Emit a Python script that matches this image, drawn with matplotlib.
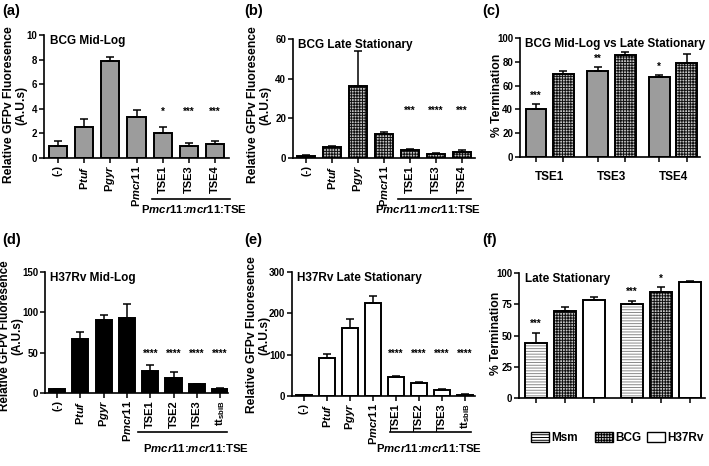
import matplotlib
matplotlib.use('Agg')
import matplotlib.pyplot as plt
from matplotlib.patches import Patch
from matplotlib.lines import Line2D
import numpy as np

plt.rcParams['font.family'] = ['Liberation Sans', 'DejaVu Sans']
plt.rcParams['font.weight'] = 'bold'
plt.rcParams['mathtext.fontset'] = 'custom'
plt.rcParams['mathtext.rm'] = 'Liberation Sans:bold'
plt.rcParams['mathtext.it'] = 'Liberation Sans:italic:bold'
plt.rcParams['mathtext.bf'] = 'Liberation Sans:bold'
plt.rcParams['hatch.linewidth'] = 0.7

# ---------------- data ----------------
ab_labels = ['(-)', 'P$tuf$', 'P$gyr$', 'P$mcr11$', 'TSE1', 'TSE3', 'TSE4']
a_vals = [0.98, 2.55, 7.85, 3.3, 2.05, 0.95, 1.13]
a_err = [0.42, 0.6, 0.35, 0.6, 0.45, 0.25, 0.22]
a_stars = ['', '', '', '', '*', '***', '***']

b_vals = [1.2, 5.3, 36.5, 12.2, 3.8, 2.2, 3.0]
b_err = [0.3, 0.8, 17.5, 0.8, 0.5, 0.4, 1.0]
b_stars = ['', '', '', '', '***', '****', '***']

c_groups = ['TSE1', 'TSE3', 'TSE4']
c_midlog = [40.0, 72.5, 67.2]
c_midlog_err = [4.3, 2.9, 1.7]
c_late = [69.7, 85.7, 78.7]
c_late_err = [2.6, 2.8, 7.6]
c_stars = ['***', '**', '*']

de_labels = ['(-)', 'P$tuf$', 'P$gyr$', 'P$mcr11$', 'TSE1', 'TSE2', 'TSE3', 'tt$_{\\rm sbiB}$']
d_vals = [5.0, 67.0, 90.0, 93.0, 27.7, 18.6, 11.2, 5.4]
d_err = [0.5, 8.6, 7.0, 17.6, 7.3, 7.4, 0.4, 0.8]
d_stars = ['', '', '', '', '****', '****', '****', '****']

e_vals = [2.0, 93.0, 164.0, 224.0, 46.0, 32.4, 15.4, 3.2]
e_err = [0.5, 9.0, 22.0, 19.0, 2.7, 2.6, 2.4, 0.5]
e_stars = ['', '', '', '', '****', '****', '****', '****']

f_groups = ['TSE1', 'TSE3']
f_strains = ['Msm', 'BCG', 'H37Rv']
f_msm = [43.7, 75.3]
f_msm_err = [8.6, 2.7]
f_bcg = [69.7, 84.7]
f_bcg_err = [3.0, 3.8]
f_h37 = [78.6, 92.5]
f_h37_err = [2.1, 1.3]
f_stars_msm = ['***', '***']
f_stars_bcg = ['', '*']
f_stars_h37 = ['', '']

# ---------------- layout helpers ----------------
W, H = 709, 466
fig = plt.figure(figsize=(7.09, 4.66), dpi=100)

def add_ax(l, r, t, b):
    return fig.add_axes([l / W, 1 - b / H, (r - l) / W, (b - t) / H])

def fx(px):
    return px / W

def fy(py):
    return 1 - py / H

GREY = '#9c9c9c'
GRID_FACE = '#c4c4c4'
EDGE_LW = 1.4

def style(ax, ymax, yticks):
    for s in ['top', 'right']:
        ax.spines[s].set_visible(False)
    for s in ['left', 'bottom']:
        ax.spines[s].set_linewidth(1.2)
    ax.set_ylim(0, ymax)
    ax.set_yticks(yticks)
    ax.tick_params(axis='both', direction='out', length=3.5, width=1.1,
                   labelsize=7, pad=1.5)
    for t in ax.get_yticklabels():
        t.set_fontweight('bold')

def hatched_bars(ax, x, vals, width, kind):
    if kind == 'grid':
        ax.bar(x, vals, width, color=GRID_FACE, edgecolor='#111111',
               linewidth=0, hatch='++++++', zorder=2)
    elif kind == 'hline':
        ax.bar(x, vals, width, color='white', edgecolor='#8a8a8a',
               linewidth=0, hatch='------', zorder=2)
    ax.bar(x, vals, width, fill=False, edgecolor='black', linewidth=EDGE_LW, zorder=3)

def errs(ax, x, vals, err):
    ax.errorbar(x, vals, yerr=[np.zeros(len(vals)), err], fmt='none',
                ecolor='black', elinewidth=1.1, capsize=3.2, capthick=1.1, zorder=4)

def stars_at(ax, x, stars, y):
    for xi, s in zip(x, stars):
        if s:
            ax.text(xi, y, s, ha='center', va='center', fontsize=7, zorder=5)

def stars_above(ax, x, vals, err, stars, ymax):
    for xi, v, e, s in zip(x, vals, err, stars):
        if s:
            ax.text(xi, v + e + ymax * 0.07, s, ha='center', va='center', fontsize=7, zorder=5)

def ylab(px, py, txt, size=8.7):
    fig.text(fx(px), fy(py), txt, rotation=90, ha='center', va='center',
             fontsize=size, multialignment='center', linespacing=1.05)

def bracket(x0, x1, yline, ytext, xtext):
    fig.add_artist(Line2D([fx(x0), fx(x1)], [fy(yline), fy(yline)], color='black', lw=1.2))
    fig.text(fx(xtext), fy(ytext), 'P$mcr11$:$mcr11$:TSE', ha='center', va='center', fontsize=8.2)

def title_in(ax, txt):
    ax.text(0.03, 1.0, txt, transform=ax.transAxes, ha='left', va='top', fontsize=8.5)

def panel_label(px, py, txt):
    fig.text(fx(px), fy(py), txt, ha='left', va='center', fontsize=10.5)

# ---------------- (a) ----------------
ax = add_ax(44, 229, 35, 158)
x = np.arange(len(ab_labels))
ax.bar(x, a_vals, 0.69, color=GREY, edgecolor='black', linewidth=EDGE_LW, zorder=2)
errs(ax, x, a_vals, a_err)
stars_at(ax, x, a_stars, 3.75)
ax.set_xlim(-0.53, 6.53)
style(ax, 10, [0, 2, 4, 6, 8, 10])
ax.set_xticks(x, ab_labels, rotation=90, fontsize=8)
title_in(ax, 'BCG Mid-Log')

# ---------------- (b) ----------------
ax = add_ax(293, 475, 39, 158)
hatched_bars(ax, x, b_vals, 0.73, 'grid')
errs(ax, x, b_vals, b_err)
stars_at(ax, x, b_stars, 24)
ax.set_xlim(-0.5, 6.5)
style(ax, 60, [0, 20, 40, 60])
ax.set_xticks(x, ab_labels, rotation=90, fontsize=8)
title_in(ax, 'BCG Late Stationary')

# ---------------- (c) ----------------
ax = add_ax(520, 700, 38, 157)
g = np.arange(len(c_groups)) * 2.24
ax.bar(g, c_midlog, 0.76, color=GREY, edgecolor='black', linewidth=EDGE_LW, zorder=2)
hatched_bars(ax, g + 1, c_late, 0.76, 'grid')
errs(ax, g, c_midlog, c_midlog_err)
errs(ax, g + 1, c_late, c_late_err)
stars_above(ax, g, c_midlog, c_midlog_err, c_stars, 100)
ax.set_xlim(-0.58, 5.96)
style(ax, 100, [0, 20, 40, 60, 80, 100])
ax.set_xticks(np.sort(np.concatenate([g, g + 1])), [])
ax.set_xticks(g + 0.5, c_groups, minor=True)
ax.tick_params(axis='x', which='minor', length=0, labelsize=8.5, pad=10)
title_in(ax, 'BCG Mid-Log vs Late Stationary')

# ---------------- (d) ----------------
ax = add_ax(45, 228, 272, 393)
x8 = np.arange(len(de_labels))
ax.bar(x8, d_vals, 0.69, color='black', edgecolor='black', linewidth=EDGE_LW, zorder=2)
errs(ax, x8, d_vals, d_err)
stars_at(ax, x8, d_stars, 48)
ax.set_xlim(-0.52, 7.34)
style(ax, 150, [0, 50, 100, 150])
ax.set_xticks(x8, de_labels, rotation=90, fontsize=8)
title_in(ax, 'H37Rv Mid-Log')

# ---------------- (e) ----------------
ax = add_ax(292, 475, 272, 396)
ax.bar(x8, e_vals, 0.7, color='white', edgecolor='black', linewidth=EDGE_LW, zorder=2)
errs(ax, x8, e_vals, e_err)
stars_at(ax, x8, e_stars, 101)
ax.set_xlim(-0.52, 7.43)
style(ax, 300, [0, 100, 200, 300])
ax.set_xticks(x8, de_labels, rotation=90, fontsize=8)
title_in(ax, 'H37Rv Late Stationary')

# ---------------- (f) ----------------
ax = add_ax(519, 705, 273, 398)
gf = np.arange(len(f_groups)) * 3.3
hatched_bars(ax, gf, f_msm, 0.76, 'hline')
hatched_bars(ax, gf + 1, f_bcg, 0.76, 'grid')
ax.bar(gf + 2, f_h37, 0.76, color='white', edgecolor='black', linewidth=EDGE_LW, zorder=2)
errs(ax, gf, f_msm, f_msm_err)
errs(ax, gf + 1, f_bcg, f_bcg_err)
errs(ax, gf + 2, f_h37, f_h37_err)
stars_above(ax, gf, f_msm, f_msm_err, f_stars_msm, 100)
stars_above(ax, gf + 1, f_bcg, f_bcg_err, f_stars_bcg, 100)
ax.set_xlim(-0.59, 5.83)
style(ax, 100, [0, 25, 50, 75, 100])
ax.set_xticks(np.sort(np.concatenate([gf, gf + 1, gf + 2])), [])
ax.set_xticks(gf + 1, f_groups, minor=True)
ax.tick_params(axis='x', which='minor', length=0, labelsize=8.5, pad=0.5)
title_in(ax, 'Late Stationary')

# legend entries placed individually (GraphPad-style spacing)
leg_handles = [Patch(facecolor='white', edgecolor='#8a8a8a', hatch='------', linewidth=1.0),
               Patch(facecolor=GRID_FACE, edgecolor='#111111', hatch='++++++', linewidth=1.0),
               Patch(facecolor='white', edgecolor='black', linewidth=1.0)]
for h, name, px in zip(leg_handles, f_strains, [531, 595, 647]):
    lg = fig.legend([h], [name], loc='center left', bbox_to_anchor=(fx(px), fy(438)),
                    frameon=False, fontsize=8.5, handlelength=1.5, handleheight=0.9,
                    handletextpad=0.25, borderpad=0, borderaxespad=0)
    for p in lg.get_patches():
        p.set_edgecolor('black')
        p.set_linewidth(1.0)

# ---------------- labels ----------------
ylab(15, 105, 'Relative GFPv Fluoresence\n(A.U.s)')
ylab(259, 105, 'Relative GFPv Fluoresence\n(A.U.s)')
ylab(497, 95, '% Termination')
ylab(11, 336, 'Relative GFPv Fluoresence\n(A.U.s)', size=8.4)
ylab(258, 335, 'Relative GFPv Fluoresence\n(A.U.s)')
ylab(496, 333, '% Termination')

bracket(152, 230, 199, 209, 194)
bracket(398, 471, 199, 209, 428)
bracket(138, 227, 432, 448, 196)
bracket(390, 471, 432, 448, 429)

panel_label(2, 11, '(a)')
panel_label(244, 11, '(b)')
panel_label(482, 11, '(c)')
panel_label(2, 240, '(d)')
panel_label(244, 240, '(e)')
panel_label(482, 240, '(f)')

fig.savefig('out.png', dpi=100)
